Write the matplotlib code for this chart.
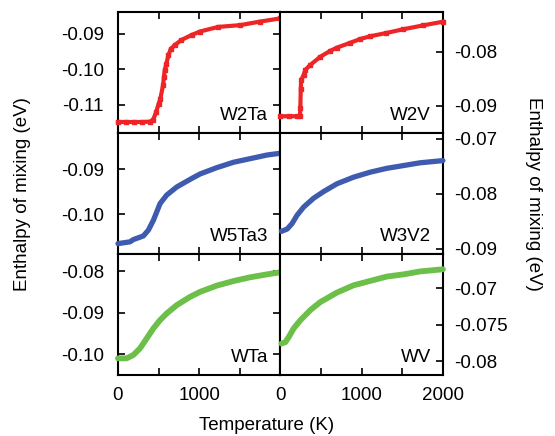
import matplotlib
matplotlib.use("Agg")
import matplotlib.pyplot as plt

plt.rcParams['font.family'] = ['Liberation Sans', 'DejaVu Sans']
plt.rcParams['font.size'] = 13.5

# temperature (K) and enthalpy of mixing (eV)
t_w2ta = [0, 100, 200, 300, 390, 430, 470, 500, 520, 555, 565, 575, 595, 620, 650,
          700, 780, 905, 1010, 1235, 1506, 1750, 2000]
e_w2ta = [-0.1148, -0.1148, -0.1148, -0.1148, -0.1147, -0.1143, -0.1120, -0.1097, -0.1084,
          -0.1044, -0.1022, -0.1002, -0.0985, -0.0960, -0.0942, -0.0931, -0.0917, -0.0903,
          -0.0893, -0.0880, -0.0875, -0.0865, -0.0856]

t_w2v = [0, 100, 200, 240, 245, 250, 255, 285, 307, 368, 490, 613, 695, 860, 982, 1104,
         1300, 1510, 1750, 2000]
e_w2v = [-0.0919, -0.0919, -0.0919, -0.0919, -0.0903, -0.0869, -0.0852, -0.0843, -0.0833,
         -0.0824, -0.0809, -0.0798, -0.0792, -0.0783, -0.0776, -0.0771, -0.0765, -0.0758,
         -0.0751, -0.0744]

t_w5ta3 = [0, 148, 189, 312, 374, 436, 518, 600, 724, 889, 1012, 1218, 1424, 1630, 1835, 2000]
e_w5ta3 = [-0.1065, -0.1061, -0.1056, -0.1048, -0.1035, -0.1013, -0.0976, -0.0957, -0.0939,
           -0.0922, -0.0910, -0.0896, -0.0884, -0.0876, -0.0868, -0.0864]

t_w3v2 = [12, 82, 143, 204, 286, 409, 532, 695, 900, 1104, 1309, 1514, 1718, 2000]
e_w3v2 = [-0.0868, -0.0864, -0.0854, -0.0839, -0.0824, -0.0808, -0.0796, -0.0782, -0.0770,
          -0.0761, -0.0754, -0.0749, -0.0744, -0.0740]

t_wta = [0, 107, 189, 271, 354, 436, 518, 600, 724, 889, 1012, 1218, 1424, 1630, 1835, 2000]
e_wta = [-0.1010, -0.1010, -0.1002, -0.0986, -0.0962, -0.0938, -0.0918, -0.0902, -0.0882,
         -0.0862, -0.0850, -0.0835, -0.0824, -0.0815, -0.0808, -0.0803]

t_wv = [12, 61, 102, 164, 245, 368, 491, 695, 900, 1104, 1309, 1514, 1718, 2000]
e_wv = [-0.0776, -0.0774, -0.0767, -0.0755, -0.0744, -0.0730, -0.0719, -0.0706, -0.0696,
        -0.0690, -0.0684, -0.0681, -0.0677, -0.0674]

red = '#ee2426'
blue = '#3f5bb0'
green = '#6cc04a'

fig, axes = plt.subplots(3, 2, figsize=(5.55, 4.36), dpi=100)
fig.subplots_adjust(left=0.2126, right=0.798, top=0.9725, bottom=0.140, hspace=0, wspace=0)

panels = [
    (axes[0, 0], t_w2ta, e_w2ta, red, 'W2Ta', (-0.1179, -0.0838), [-0.11, -0.10, -0.09], ['-0.11', '-0.10', '-0.09']),
    (axes[0, 1], t_w2v, e_w2v, red, 'W2V', (-0.0950, -0.0726), [-0.09, -0.08], ['-0.09', '-0.08']),
    (axes[1, 0], t_w5ta3, e_w5ta3, blue, 'W5Ta3', (-0.1088, -0.0819), [-0.10, -0.09], ['-0.10', '-0.09']),
    (axes[1, 1], t_w3v2, e_w3v2, blue, 'W3V2', (-0.0909, -0.0690), [-0.09, -0.08, -0.07], ['-0.09', '-0.08', '-0.07']),
    (axes[2, 0], t_wta, e_wta, green, 'WTa', (-0.1050, -0.0759), [-0.10, -0.09, -0.08], ['-0.10', '-0.09', '-0.08']),
    (axes[2, 1], t_wv, e_wv, green, 'WV', (-0.0819, -0.0653), [-0.08, -0.075, -0.07], ['-0.08', '-0.075', '-0.07']),
]

for i, (ax, t, e, col, name, ylim, yt, ytl) in enumerate(panels):
    if col == red:
        ax.plot(t, e, color=col, lw=3.0, marker='s', ms=3.2, mec=col, clip_on=False, zorder=3)
    else:
        ax.plot(t, e, color=col, lw=4.2 if col == green else 3.8, solid_capstyle='round',
                clip_on=False, zorder=3)
    ax.set_xlim(0, 2000)
    ax.set_ylim(*ylim)
    ax.set_yticks(yt)
    ax.set_yticklabels(ytl)
    ax.set_xticks([0, 500, 1000, 1500, 2000])
    row = i // 2
    right = i % 2 == 1
    if row == 2:
        if right:
            ax.set_xticklabels(['0', '', '1000', '', '2000'])
        else:
            ax.set_xticklabels(['0', '', '1000', '', ''])
    else:
        ax.set_xticklabels([])
    for s in ax.spines.values():
        s.set_linewidth(1.5)
    ax.tick_params(direction='in', length=5, width=1.2, top=True, bottom=True, pad=9)
    if right:
        ax.yaxis.tick_right()
        ax.tick_params(axis='y', left=False, right=True, labelleft=False, labelright=True, pad=8)
    else:
        ax.tick_params(axis='y', left=True, right=True, labelleft=True, labelright=False, pad=10)
    ax.text(0.925, 0.105, name, ha='right', va='baseline', transform=ax.transAxes)

fig.text(0.04, 0.556, 'Enthalpy of mixing (eV)', rotation=90, ha='center', va='center')
fig.text(0.962, 0.556, 'Enthalpy of mixing (eV)', rotation=270, ha='center', va='center')
fig.text(0.48, 1 - 425 / 436, 'Temperature (K)', ha='center', va='center')

fig.savefig('out.png', dpi=100)
